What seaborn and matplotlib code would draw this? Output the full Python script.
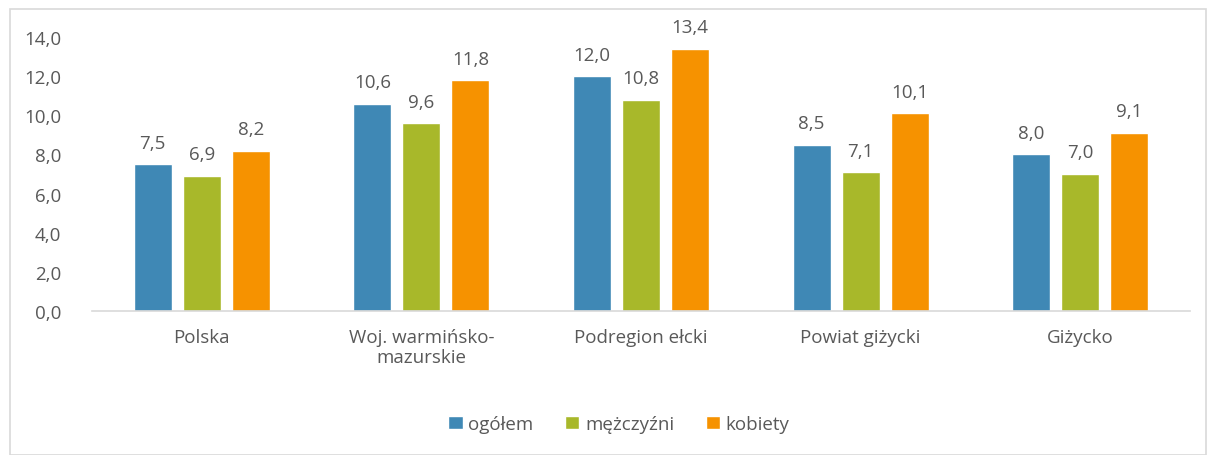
import matplotlib
matplotlib.use("Agg")
import matplotlib.pyplot as plt
import pandas as pd
import seaborn as sns
from matplotlib.patches import Rectangle

regions = ["Polska", "Woj. warmińsko-\nmazurskie", "Podregion ełcki", "Powiat giżycki", "Giżycko"]
ogolem = [7.5, 10.6, 12.0, 8.5, 8.0]
mezczyzni = [6.9, 9.6, 10.8, 7.1, 7.0]
kobiety = [8.2, 11.8, 13.4, 10.1, 9.1]
series_names = ["ogółem", "mężczyźni", "kobiety"]
colors = ["#3F88B5", "#A8B82A", "#F69200"]

df = pd.DataFrame({
    "region": regions * 3,
    "series": [s for s in series_names for _ in regions],
    "value": ogolem + mezczyzni + kobiety,
})

sns.set_theme(style="white")
plt.rcParams["font.family"] = ["Open Sans", "DejaVu Sans"]
text_color = "#595959"

fig = plt.figure(figsize=(12.09, 4.56), dpi=100)
ax = fig.add_axes([92 / 1209, 1 - 312 / 456, 1098 / 1209, (312 - 38) / 456])

sns.barplot(data=df, x="region", y="value", hue="series", palette=colors,
            width=0.67, gap=0.224, ax=ax, legend=True, saturation=1)

for cont in ax.containers:
    ax.bar_label(cont, labels=[f"{v:.1f}".replace(".", ",") for v in cont.datavalues],
                 padding=9, fontsize=13.5, color=text_color)

ax.set_ylim(0, 14)
ax.set_xlim(-0.5, 4.5)
ax.set_yticks(range(0, 15, 2))
ax.set_yticklabels([f"{v:.1f}".replace(".", ",") for v in range(0, 15, 2)])
ax.tick_params(axis="y", labelsize=13.5, colors=text_color, length=0, pad=22)
ax.tick_params(axis="x", labelsize=13.5, colors=text_color, length=0, pad=12)
ax.set_xlabel("")
ax.set_ylabel("")
for side in ["top", "right", "left"]:
    ax.spines[side].set_visible(False)
ax.spines["bottom"].set_color("#D9D9D9")
ax.spines["bottom"].set_linewidth(1.2)

handles, labels = ax.get_legend_handles_labels()
ax.legend_.remove()
fig.legend(handles, labels, loc="center", bbox_to_anchor=(619 / 1209, 1 - 425 / 456),
           ncol=3, frameon=False, fontsize=13.5, handlelength=0.75, handleheight=0.75,
           handletextpad=0.3, columnspacing=1.7, labelcolor=text_color)

fig.patches.append(Rectangle((10 / 1209, 0.0), (1206 - 10) / 1209, 1 - 10 / 456,
                             transform=fig.transFigure, fill=False,
                             edgecolor="#D9D9D9", linewidth=1.2))

fig.savefig("out.png", dpi=100)
